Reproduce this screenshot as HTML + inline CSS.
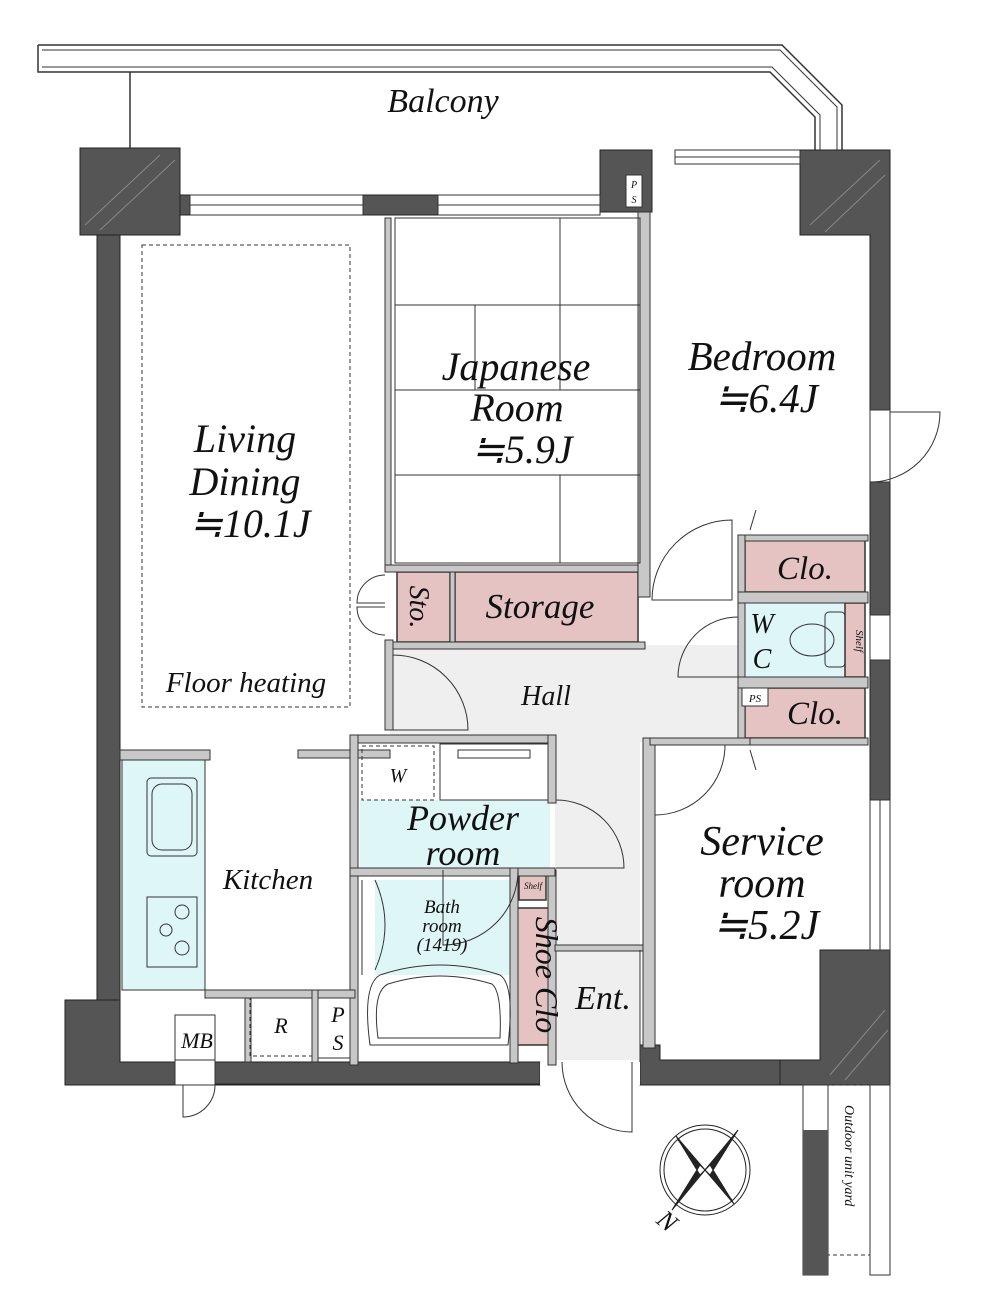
<!DOCTYPE html>
<html><head><meta charset="utf-8"><style>
html,body{margin:0;padding:0;background:#fff;}
svg{display:block;}
text{font-family:"Liberation Serif",serif;font-style:italic;fill:#111;}
</style></head><body>
<svg width="999" height="1304" viewBox="0 0 999 1304" xmlns="http://www.w3.org/2000/svg">
<!-- balcony -->
<g fill="none" stroke="#333" stroke-width="1.5">
<path d="M38,45 H782 L842,105 V150"/>
<path d="M38,45 V72 H770 L815,117 V150"/>
<path d="M42,50 H780 L837,107 V150" stroke-width="1"/>
<path d="M42,67 H772 L820,115 V150" stroke-width="1"/>
<line x1="130" y1="72" x2="130" y2="148"/>
</g>
<text x="443" y="112" font-size="34" text-anchor="middle">Balcony</text>

<!-- floor fills -->
<rect x="120" y="218" width="268" height="532" fill="#fff"/>
<path d="M390,645 H745 V742 H640 V1060 H555 V742 H390Z" fill="#efefef"/>
<rect x="122" y="760" width="83" height="230" fill="#dff6f6" stroke="#333"/>
<rect x="360" y="800" width="190" height="70" fill="#dff6f6"/>
<rect x="375" y="880" width="135" height="95" fill="#dff6f6"/>
<rect x="745" y="603" width="120" height="74" fill="#dff6f6"/>
<!-- pink -->
<g fill="#e6c3c3" stroke="#333" stroke-width="1.5">
<rect x="397" y="572" width="53" height="70"/>
<rect x="455" y="572" width="183" height="70"/>
<rect x="745" y="540" width="120" height="52"/>
<rect x="745" y="688" width="120" height="50"/>
<rect x="517" y="908" width="37" height="137"/>
<rect x="519" y="873" width="27" height="27"/>
<rect x="845" y="603" width="20" height="74"/>
</g>

<!-- main dark walls -->
<g fill="#555" stroke="#222" stroke-width="1">
<path d="M80,148 H180 V195 H190 V215 H120 V1000 H97 V215 H80Z"/>
<rect x="80" y="148" width="100" height="87"/>
<path d="M65,1000 H120 V1062 H540 V1085 H65Z"/>
<rect x="210" y="1062" width="330" height="22"/>
<path d="M640,1045 H660 V1060 H790 V1085 H640Z"/>
<path d="M800,150 H890 V1000 H870 V235 H800Z"/>
<path d="M820,950 H890 V1085 H780 V1060 H820Z"/>
<rect x="600" y="150" width="52" height="62"/>
<rect x="363" y="195" width="75" height="20"/>
</g>
<g fill="#fff" stroke="#333" stroke-width="1">
<rect x="190" y="195" width="173" height="20"/>
<rect x="438" y="195" width="162" height="20"/>
<rect x="675" y="150" width="125" height="14"/>
<rect x="870" y="410" width="20" height="72"/>
<rect x="870" y="800" width="20" height="150"/>
<rect x="870" y="615" width="20" height="45"/>
<rect x="175" y="1015" width="40" height="70"/>
<rect x="540" y="1062" width="100" height="23" stroke="none"/>
</g>
<g stroke="#333" stroke-width="1" fill="none">
<line x1="190" y1="205" x2="363" y2="205"/>
<line x1="438" y1="205" x2="600" y2="205"/>
<line x1="675" y1="157" x2="800" y2="157"/>
<line x1="880" y1="800" x2="880" y2="950"/>
<path d="M870,482 A70,70 0 0 0 940,412 H890"/>
<path d="M215,1085 A32,32 0 0 1 183,1117 V1085"/>
<path d="M562,1062 A70,70 0 0 0 632,1132 V1062"/>
</g>
<g stroke="#888" stroke-width="1">
<line x1="85" y1="225" x2="160" y2="155"/><line x1="100" y1="230" x2="175" y2="160"/>
<line x1="810" y1="225" x2="880" y2="160"/><line x1="825" y1="232" x2="885" y2="175"/>
<line x1="830" y1="1075" x2="885" y2="1010"/><line x1="845" y1="1080" x2="888" y2="1030"/>
</g>

<!-- interior partitions -->
<g fill="#c8c8c8" stroke="#333" stroke-width="1">
<rect x="385" y="218" width="6" height="350"/>
<rect x="385" y="565" width="260" height="7"/>
<rect x="638" y="212" width="12" height="385"/>
<rect x="385" y="642" width="260" height="7"/>
<rect x="385" y="640" width="8" height="90"/>
<rect x="450" y="572" width="5" height="70"/>
<rect x="738" y="535" width="130" height="6"/>
<rect x="738" y="535" width="7" height="210"/>
<rect x="738" y="592" width="130" height="11"/>
<rect x="738" y="677" width="130" height="11"/>
<rect x="738" y="738" width="130" height="7"/>
<rect x="643" y="738" width="12" height="310"/>
<rect x="650" y="738" width="100" height="7"/>
<rect x="120" y="750" width="90" height="10"/>
<rect x="298" y="750" width="92" height="8"/>
<rect x="350" y="735" width="205" height="8"/>
<rect x="350" y="735" width="8" height="330"/>
<rect x="548" y="735" width="8" height="68"/>
<rect x="548" y="870" width="8" height="195"/>
<rect x="350" y="868" width="205" height="8"/>
<rect x="510" y="868" width="8" height="195"/>
<rect x="205" y="990" width="150" height="8"/>
<rect x="245" y="998" width="6" height="64"/>
<rect x="312" y="990" width="6" height="72"/>
<rect x="555" y="945" width="88" height="6"/>
</g>
<g stroke="#333" stroke-width="1" fill="none">
<rect x="395" y="218" width="245" height="345"/>
<line x1="395" y1="305" x2="640" y2="305"/>
<line x1="475" y1="305" x2="475" y2="390"/>
<line x1="395" y1="390" x2="640" y2="390"/>
<line x1="395" y1="475" x2="640" y2="475"/>
<line x1="560" y1="218" x2="560" y2="305"/>
<line x1="560" y1="475" x2="560" y2="563"/>
<line x1="560" y1="305" x2="560" y2="390" />
<rect x="142" y="245" width="208" height="462" stroke-dasharray="4,3"/>
<rect x="362" y="746" width="72" height="54" stroke-dasharray="4,3"/>
<rect x="440" y="744" width="108" height="56"/>
<rect x="458" y="750" width="72" height="8"/>
<rect x="250" y="998" width="62" height="58" stroke-dasharray="4,3"/>
<rect x="318" y="998" width="32" height="60"/>
<rect x="175" y="1015" width="40" height="45"/>
<rect x="147" y="778" width="50" height="78" rx="4"/>
<rect x="152" y="784" width="40" height="66" rx="10"/>
<rect x="147" y="897" width="50" height="70"/>
<circle cx="182" cy="912" r="7"/><circle cx="182" cy="948" r="7"/><circle cx="166" cy="930" r="6"/>
<path d="M370,1045 Q362,985 380,975 Q440,955 500,975 Q515,985 508,1045 Z"/>
<path d="M378,1038 Q372,992 388,984 Q440,968 492,984 Q502,992 500,1038 Z"/>
<path d="M362,880 V975 M375,880 Q395,925 375,970"/>
<ellipse cx="812" cy="640" rx="22" ry="16"/>
<rect x="825" y="612" width="20" height="55" rx="4"/>
<path d="M732,520 A80,80 0 0 0 652,600 H732Z" fill="none"/>
<path d="M393,655 A75,75 0 0 1 468,730 H393"/>
<path d="M738,617 A60,60 0 0 0 678,677 H738"/>
<path d="M655,815 A70,70 0 0 0 725,745"/>
<path d="M556,800 A68,68 0 0 1 624,868 H556"/>
<path d="M518,870 A75,75 0 0 1 443,945 V870"/>
<path d="M385,575 A28,28 0 0 0 357,603 H385 M385,635 A28,28 0 0 1 357,607 H385"/>
<path d="M756,510 L750,530 M756,770 L750,750"/>
<line x1="640" y1="950" x2="640" y2="1060"/>
</g>

<g fill="#fff" stroke="#333">
<rect x="626" y="175" width="16" height="32"/>
<rect x="742" y="688" width="26" height="18"/>
</g>
<text x="634" y="188" font-size="10" text-anchor="middle">P</text>
<text x="634" y="203" font-size="10" text-anchor="middle">S</text>
<text x="755" y="702" font-size="11" text-anchor="middle">PS</text>

<g stroke="#222" fill="none">
<circle cx="705" cy="1170" r="45"/><circle cx="705" cy="1170" r="41"/>
<path d="M675,1205 L735,1135 M678,1140 L732,1200" stroke-width="1"/>
<path d="M705,1170 L672,1210 L700,1165Z M705,1170 L738,1130 L710,1175Z M705,1170 L676,1136 L700,1175Z M705,1170 L734,1204 L710,1165Z" fill="#222"/>
</g>
<text x="655" y="1222" font-size="26" font-style="normal" transform="rotate(40 655 1222)">N</text>

<g stroke="#333" fill="none">
<rect x="803" y="1085" width="25" height="190"/>
<rect x="828" y="1085" width="42" height="170" stroke-dasharray="4,3"/>
<rect x="870" y="1085" width="20" height="190"/>
</g>
<rect x="803" y="1130" width="25" height="145" fill="#555"/>
<text x="0" y="0" font-size="14" transform="translate(845,1105) rotate(90)">Outdoor unit yard</text>

<g text-anchor="middle">
<text x="245" y="452" font-size="40">Living</text>
<text x="245" y="495" font-size="40">Dining</text>
<text x="250" y="537" font-size="40">≒10.1J</text>
<text x="246" y="692" font-size="29">Floor heating</text>
<text x="516" y="380" font-size="40">Japanese</text>
<text x="517" y="421" font-size="40">Room</text>
<text x="522" y="463" font-size="40">≒5.9J</text>
<text x="762" y="370" font-size="41">Bedroom</text>
<text x="766" y="412" font-size="41">≒6.4J</text>
<text x="423" y="620" font-size="28" transform="rotate(90 423 607)">Sto.</text>
<text x="540" y="618" font-size="35">Storage</text>
<text x="805" y="579" font-size="33">Clo.</text>
<text x="762" y="633" font-size="28">W</text>
<text x="762" y="668" font-size="28">C</text>
<text x="856" y="641" font-size="11" transform="rotate(90 856 641)">Shelf</text>
<text x="546" y="705" font-size="28">Hall</text>
<text x="815" y="724" font-size="33">Clo.</text>
<text x="398" y="782" font-size="20">W</text>
<text x="463" y="830" font-size="36">Powder</text>
<text x="463" y="865" font-size="36">room</text>
<text x="268" y="889" font-size="29">Kitchen</text>
<text x="533" y="889" font-size="9">Shelf</text>
<text x="442" y="913" font-size="19">Bath</text>
<text x="442" y="932" font-size="19">room</text>
<text x="442" y="951" font-size="19">(1419)</text>
<text x="536" y="975" font-size="32" transform="rotate(90 536 975)">Shoe Clo</text>
<text x="603" y="1009" font-size="34">Ent.</text>
<text x="762" y="855" font-size="42">Service</text>
<text x="762" y="897" font-size="42">room</text>
<text x="766" y="939" font-size="42">≒5.2J</text>
<text x="281" y="1033" font-size="22">R</text>
<text x="338" y="1022" font-size="22">P</text>
<text x="338" y="1050" font-size="22">S</text>
<text x="197" y="1048" font-size="22">MB</text>
</g>
</svg>
</body></html>
